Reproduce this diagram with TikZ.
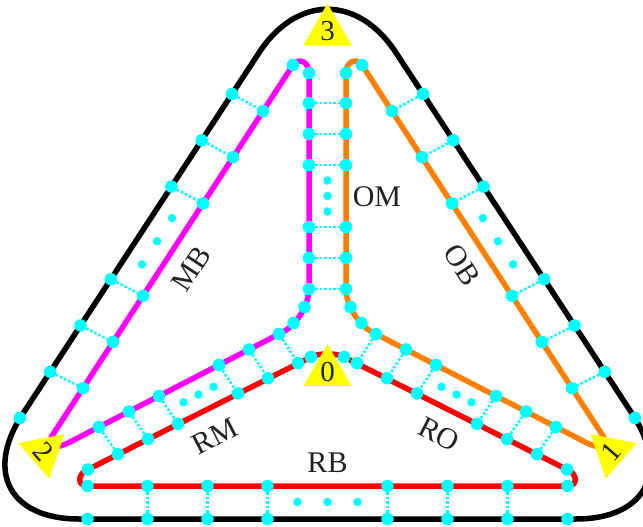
\documentclass[tikz,border=0pt]{standalone}
\usepackage{fontspec}
\setmainfont{Liberation Serif}
\usetikzlibrary{shapes.geometric}
\definecolor{rail}{HTML}{00FFFF}
\definecolor{tag}{HTML}{FFFF00}
\definecolor{mline}{HTML}{FF00FF}
\definecolor{oline}{HTML}{FF8000}
\definecolor{rline}{HTML}{FF0000}
\definecolor{ink}{HTML}{222222}

\begin{document}
\begin{tikzpicture}[x=1pt,y=-1pt,
  track/.style={line width=5.5pt,line join=round,line cap=round},
  dot/.style={circle,fill=rail,inner sep=0pt,minimum size=12.5pt},
  gap/.style={circle,fill=rail,inner sep=0pt,minimum size=8.5pt},
  rung/.style={rail,line width=2.5pt,dash pattern=on 2.5pt off 2pt},
  every node/.style={font=\fontsize{30}{30}\selectfont,text=ink},
  corner/.style={regular polygon,regular polygon sides=3,fill=tag,inner sep=0pt,
    minimum size=53pt,font=\fontsize{29}{29}\selectfont}]
\useasboundingbox (0,0) rectangle (643,527);
\draw[track,rounded corners=125pt] (327.5,519) -- (-46,519) -- (327.5,-52) -- (701,519) -- cycle;
\draw[track,rline] (87.5,486) -- (567.5,486) .. controls (578,486) and (578,474) .. (567,469.5)
  -- (344,357) .. controls (337,352.9) and (318,352.9) .. (311,357)
  -- (88,469.5) .. controls (77,474) and (77,486) .. (87.5,486) -- cycle;
\foreach \side/\c/\f in {l/mline/1,r/oline/-1}{
\begin{scope}[xshift=327.5pt,xscale=\f,xshift=-327.5pt]
\draw[track,\c] (69,442.5) .. controls (52,451) and (46,445) .. (53,434.4)
  -- (293,65) .. controls (298,57.5) and (309,61) .. (309,73)
  -- (309,288.5) .. controls (309,305) and (297,324.7) .. (282.4,332.3) -- cycle;
\foreach \k in {0,1,2,4,5,6}{
  \node[dot] (\side b\k) at ({232-30.3*\k},{94+46.3*\k}) {};
  \node[dot] (\side s\k) at ({263-30*\k},{111+46.2*\k}) {};
  \draw[rung] (\side b\k) -- (\side s\k);
  \node[dot] (\side v\k) at (309,{103+31*\k}) {};
  \node[dot] (\side d\k) at ({279-30*\k},{334+15.5*\k}) {};
  \node[dot] (\side r\k) at ({298-30*\k},{363+15.2*\k}) {};
  \draw[rung] (\side d\k) -- (\side r\k);}
\foreach \k in {2.5,3,3.5}{
  \node[gap] (\side x\k) at ({247.5-30.15*\k},{102.5+46.25*\k}) {};
  \node[gap] (\side y\k) at ({288.5-30*\k},{348.5+15.35*\k}) {};}
\node[dot] (\side e) at (20,418) {};
\node[dot] (\side t) at (293,65) {};
\node[dot] (\side u) at (309,73) {};
\node[dot] (\side p) at (304.5,307) {};
\node[dot] (\side q) at (293.5,323) {};
\node[dot] (\side c) at (88,469.5) {};
\node[dot] (\side a) at (311,357) {};
\end{scope}}
\foreach \k in {0,1,2,4,5,6}{\draw[rung] (lv\k) -- (rv\k);}
\foreach \y in {180.5,196,211.5}{\node[gap] (vx\y) at (327.5,\y) {};}
\foreach \i in {0,1,2,3,5,6,7,8}{
  \node[dot] (hr\i) at ({87.5+60*\i},486) {};
  \node[dot] (hb\i) at ({87.5+60*\i},519) {};}
\foreach \i in {1,2,3,5,6,7}{\draw[rung] (hr\i) -- (hb\i);}
\foreach \x in {297.5,327.5,357.5}{\node[gap] (hx\x) at (\x,502) {};}
\node[corner] (t3) at (327.5,31) {3};
\node[corner] (t0) at (327.5,372) {0};
\node[corner,rotate=-49] (t2) at (44,452) {2};
\node[corner,rotate=49] (t1) at (611,452) {1};
\node (om) at (377,197) {OM};
\node[rotate=56.8] (mb) at (191,269) {MB};
\node[rotate=-56.8] (ob) at (462,265) {OB};
\node[rotate=27.3] (rm) at (215,436) {RM};
\node[rotate=-27.3] (ro) at (439,434) {RO};
\node (rb) at (327.5,463) {RB};
\end{tikzpicture}
\end{document}
